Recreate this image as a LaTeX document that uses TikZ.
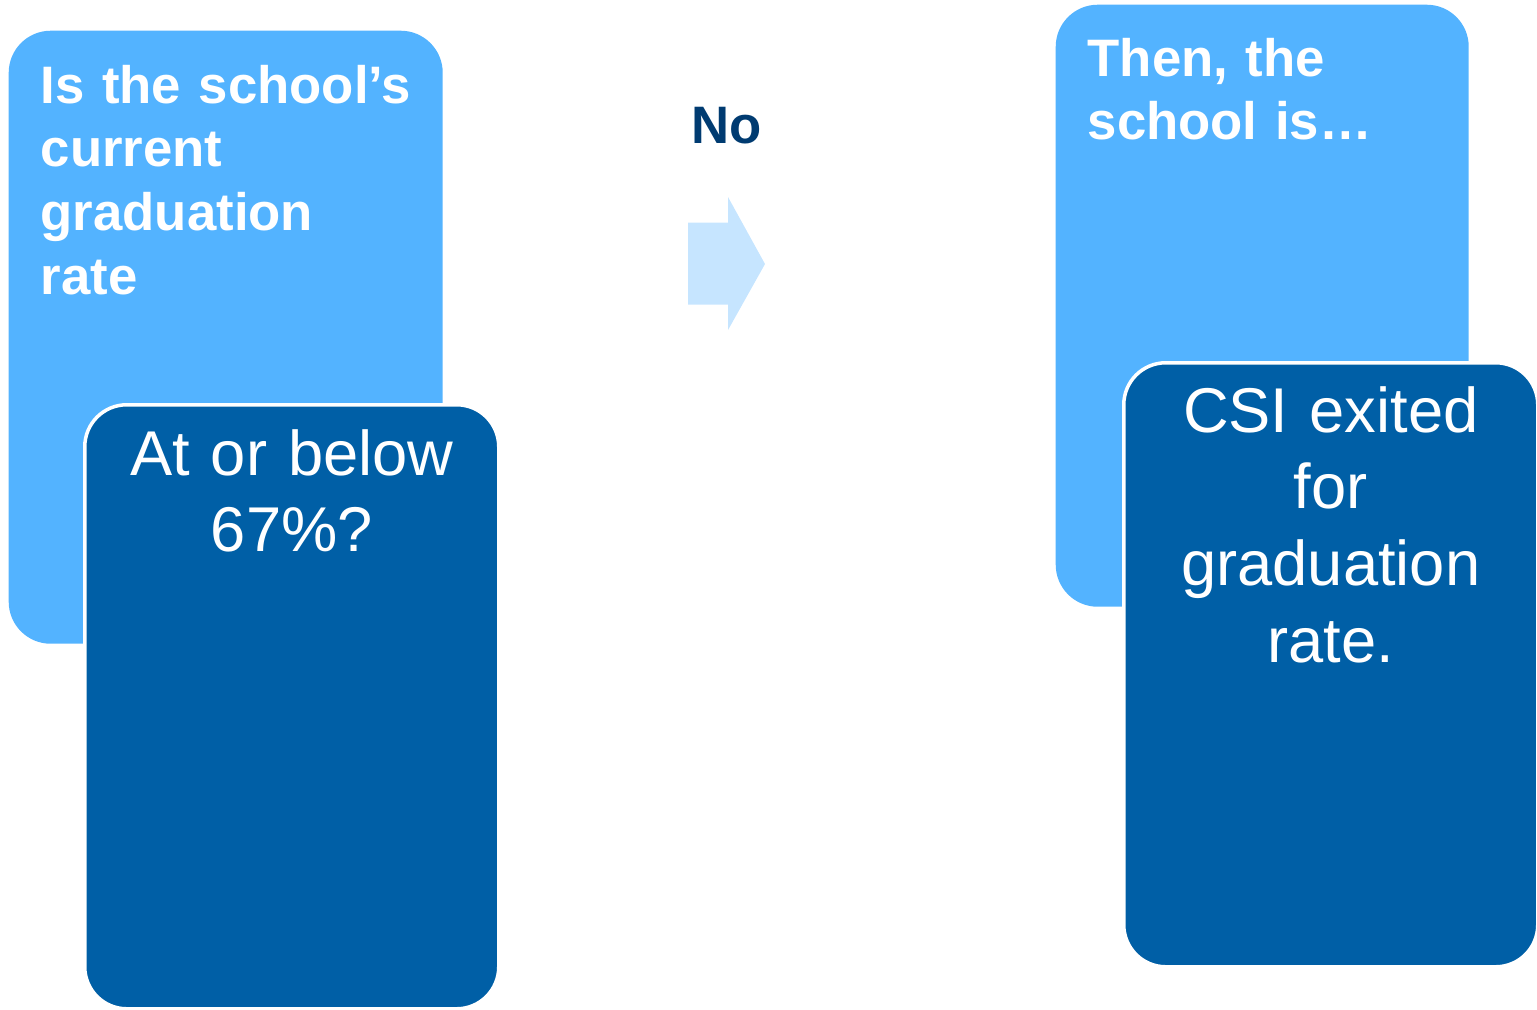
\documentclass[tikz,border=0pt]{standalone}
\usepackage{fontspec}
\setmainfont{Liberation Sans}
\definecolor{lightbox}{HTML}{53B3FF}
\definecolor{darkbox}{HTML}{005FA6}
\definecolor{arrowfill}{HTML}{C6E5FF}
\definecolor{navytext}{HTML}{003B71}
\tikzset{
  header/.style ={rectangle, rounded corners=0.42cm, fill=lightbox, inner sep=0pt,
    anchor=north west},
  answer/.style ={rectangle, rounded corners=0.42cm, fill=darkbox, draw=white, line width=1pt,
    inner sep=0pt, anchor=north west, minimum width=4.14cm, minimum height=6.04cm},
  header_text/.style={anchor=base west, inner sep=0pt, text width=4cm, align=left,
    text=white, font=\fontsize{15}{18.2}\selectfont\bfseries},
  answer_text/.style={anchor=base, inner sep=0pt, text width=4cm, align=center,
    text=white, font=\fontsize{18}{21.9}\selectfont}}

\begin{document}
\begin{tikzpicture}
\useasboundingbox (0,0) rectangle (15.37,-10.09);

% Question box
\node[header, minimum width=4.34cm, minimum height=6.13cm] (q_box) at (0.08,-0.30) {};
\node[answer] (q_ans) at (0.83,-4.03) {};
\node[header_text] (q_text) at ([xshift=0.32cm, yshift=-0.73cm]q_box.north west)
  {Is the school’s\\current\\graduation\\rate};
\node[answer_text] (q_ans_text) at ([yshift=-0.72cm]q_ans.north)
  {At or below\\67\%?};

% Result box
\node[header, minimum width=4.13cm, minimum height=6.02cm] (r_box) at (10.55,-0.04) {};
\node[answer] (r_ans) at (11.22,-3.61) {};
\node[header_text] (r_text) at ([xshift=0.32cm, yshift=-0.72cm]r_box.north west)
  {Then, the\\school is…};
\node[answer_text] (r_ans_text) at ([yshift=-0.71cm]r_ans.north)
  {CSI exited\\for\\graduation\\rate.};

% No arrow
\coordinate (arr) at (6.88,-2.64);
\fill[arrowfill] (arr) ++(0,0.415) -- ++(0.40,0) -- ++(0,0.255) -- (7.65,-2.64)
  -- (7.28,-3.30) -- ++(0,0.255) -- ++(-0.40,0) -- cycle;
\node[anchor=base, inner sep=0pt, text=navytext, font=\fontsize{15}{18}\selectfont\bfseries]
  (no_label) at (7.27,-1.43) {No};
\end{tikzpicture}
\end{document}
